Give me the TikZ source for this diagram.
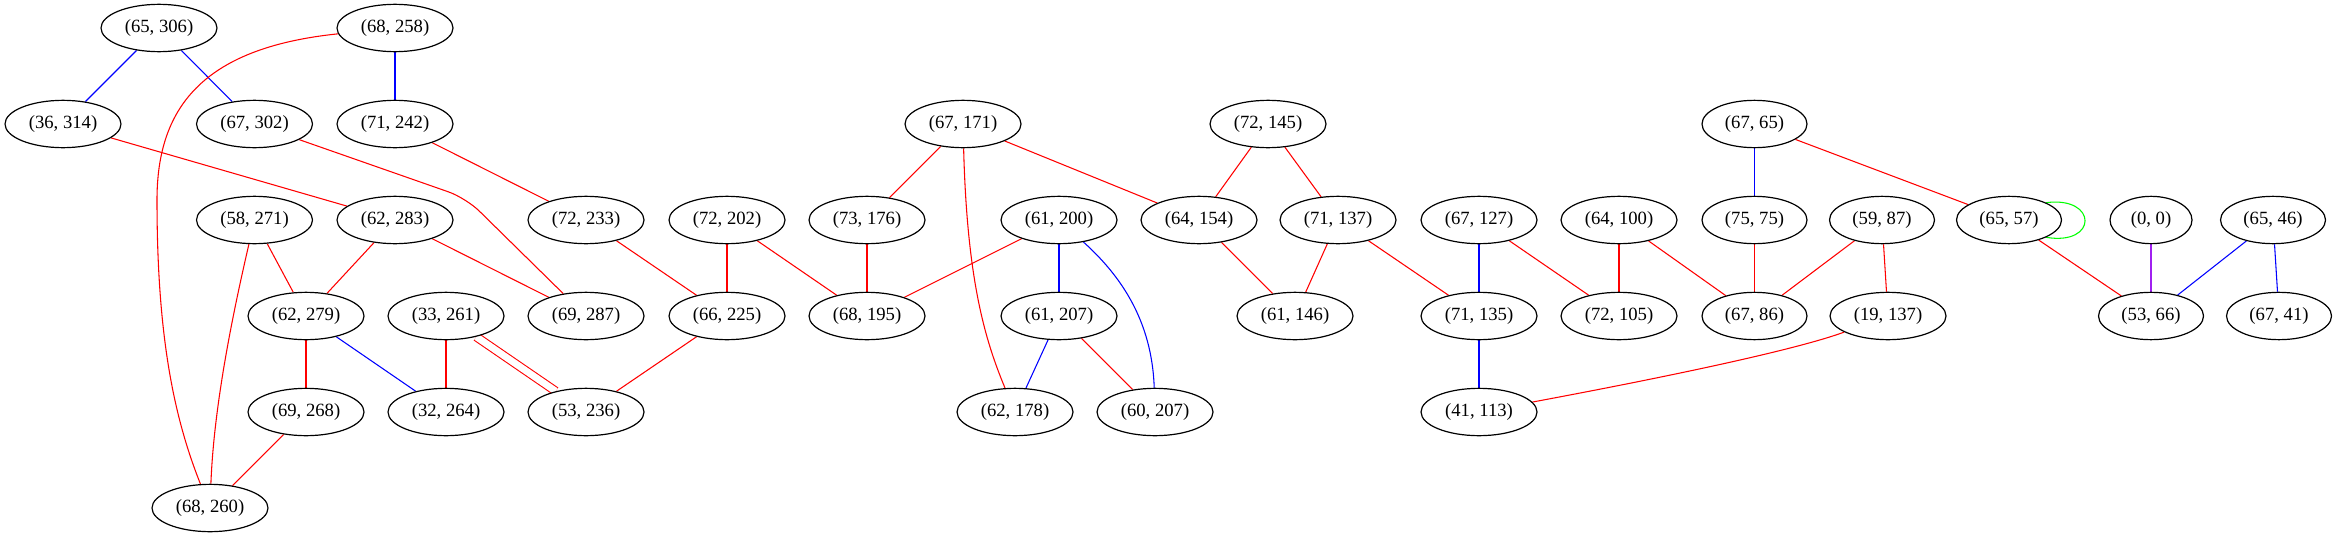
\documentclass[tikz,border=0pt]{standalone}
\usepackage{fontspec}
\setmainfont{Liberation Serif}
\usetikzlibrary{shapes.geometric,backgrounds}
\definecolor{gvred}{RGB}{255,0,0}
\definecolor{gvblue}{RGB}{0,0,255}
\definecolor{gvgreen}{RGB}{0,255,0}
\definecolor{gvpurple}{RGB}{160,32,240}
\begin{document}
\begin{tikzpicture}[x=0.75pt,y=-0.75pt,
  gn/.style={ellipse,draw,line width=0.9pt,fill=white,minimum width=87pt,minimum height=35.5pt,inner sep=0pt,font=\fontsize{14}{16}\selectfont},
  gs/.style={gn,minimum width=78.75pt},
  gt/.style={gn,minimum width=61.5pt},
  re/.style={draw=gvred,line width=0.8pt},
  be/.style={draw=gvblue,line width=0.8pt},
  ge/.style={draw=gvgreen,line width=0.8pt},
  pe/.style={draw=gvpurple,line width=0.8pt}]
\useasboundingbox (0,0) rectangle (2337,539);
% row 0
\node[gn] (a65x306) at (159,28) {(65, 306)};
\node[gn] (a68x258) at (395,28) {(68, 258)};
% row 1
\node[gn] (a36x314) at (63,124) {(36, 314)};
\node[gn] (a67x302) at (254.5,124) {(67, 302)};
\node[gn] (a71x242) at (395,124) {(71, 242)};
\node[gn] (a67x171) at (963,124) {(67, 171)};
\node[gn] (a72x145) at (1268,124) {(72, 145)};
\node[gs] (a67x65) at (1754.5,124) {(67, 65)};
% row 2
\node[gn] (a58x271) at (254.5,220) {(58, 271)};
\node[gn] (a62x283) at (395,220) {(62, 283)};
\node[gn] (a72x233) at (586,220) {(72, 233)};
\node[gn] (a72x202) at (727,220) {(72, 202)};
\node[gn] (a73x176) at (867,220) {(73, 176)};
\node[gn] (a61x200) at (1059,220) {(61, 200)};
\node[gn] (a64x154) at (1199,220) {(64, 154)};
\node[gn] (a71x137) at (1338,220) {(71, 137)};
\node[gn] (a67x127) at (1479,220) {(67, 127)};
\node[gn] (a64x100) at (1619,220) {(64, 100)};
\node[gs] (a75x75) at (1754.5,220) {(75, 75)};
\node[gs] (a59x87) at (1882,220) {(59, 87)};
\node[gs] (a65x57) at (2009,220) {(65, 57)};
\node[gt] (a0x0) at (2151,220) {(0, 0)};
\node[gs] (a65x46) at (2273,220) {(65, 46)};
% row 3
\node[gn] (a62x279) at (306,316) {(62, 279)};
\node[gn] (a33x261) at (446,316) {(33, 261)};
\node[gn] (a69x287) at (586,316) {(69, 287)};
\node[gn] (a66x225) at (727,316) {(66, 225)};
\node[gn] (a68x195) at (867,316) {(68, 195)};
\node[gn] (a61x207) at (1059,316) {(61, 207)};
\node[gn] (a61x146) at (1295,316) {(61, 146)};
\node[gn] (a71x135) at (1479,316) {(71, 135)};
\node[gn] (a72x105) at (1619,316) {(72, 105)};
\node[gs] (a67x86) at (1754.5,316) {(67, 86)};
\node[gn] (a19x137) at (1888,316) {(19, 137)};
\node[gs] (a53x66) at (2151,316) {(53, 66)};
\node[gs] (a67x41) at (2279,316) {(67, 41)};
% row 4
\node[gn] (a69x268) at (306,412) {(69, 268)};
\node[gn] (a32x264) at (446,412) {(32, 264)};
\node[gn] (a53x236) at (586,412) {(53, 236)};
\node[gn] (a62x178) at (1015,412) {(62, 178)};
\node[gn] (a60x207) at (1155,412) {(60, 207)};
\node[gn] (a41x113) at (1479,412) {(41, 113)};
% row 5
\node[gn] (a68x260) at (210,508) {(68, 260)};

\begin{pgfonlayer}{background}
% blue
\draw[be] (a65x306) -- (a36x314);
\draw[be] (a65x306) -- (a67x302);
\draw[be] (a68x258) -- (a71x242);
\draw[be] (a67x65) -- (a75x75);
\draw[be] (a61x200) -- (a61x207);
\draw[be] (a67x127) -- (a71x135);
\draw[be] (a65x46) -- (a53x66);
\draw[be] (a65x46) -- (a67x41);
\draw[be] (a62x279) -- (a32x264);
\draw[be] (a61x207) -- (a62x178);
\draw[be] (a71x135) -- (a41x113);
\draw[be] (a61x200) .. controls (1120,275) and (1152,320) .. (a60x207);
% purple
\draw[pe] (a0x0) -- (a53x66);
% green loop
\draw[ge] (a65x57.25) .. controls (2098,196) and (2098,246) .. (a65x57.-25);
% red
\draw[re] (a36x314) -- (a62x283);
\draw[re] (a71x242) -- (a72x233);
\draw[re] (a67x171) -- (a73x176);
\draw[re] (a67x171) -- (a64x154);
\draw[re] (a72x145) -- (a64x154);
\draw[re] (a72x145) -- (a71x137);
\draw[re] (a67x65) -- (a65x57);
\draw[re] (a58x271) -- (a62x279);
\draw[re] (a62x283) -- (a62x279);
\draw[re] (a62x283) -- (a69x287);
\draw[re] (a72x233) -- (a66x225);
\draw[re] (a72x202) -- (a66x225);
\draw[re] (a72x202) -- (a68x195);
\draw[re] (a73x176) -- (a68x195);
\draw[re] (a61x200) -- (a68x195);
\draw[re] (a64x154) -- (a61x146);
\draw[re] (a71x137) -- (a61x146);
\draw[re] (a71x137) -- (a71x135);
\draw[re] (a67x127) -- (a72x105);
\draw[re] (a64x100) -- (a72x105);
\draw[re] (a64x100) -- (a67x86);
\draw[re] (a75x75) -- (a67x86);
\draw[re] (a59x87) -- (a67x86);
\draw[re] (a59x87) -- (a19x137);
\draw[re] (a65x57) -- (a53x66);
\draw[re] (a62x279) -- (a69x268);
\draw[re] (a33x261) -- (a32x264);
\draw[re] (a66x225) -- (a53x236);
\draw[re] (a61x207) -- (a60x207);
\draw[re] (a69x268) -- (a68x260);
\draw[re] (a68x258) .. controls (200,48) and (157,110) .. (157,200) .. controls (157,340) and (175,420) .. (a68x260);
\draw[re, rounded corners=14pt] (a67x302) -- (466,198) -- (a69x287);
\draw[re] (a67x171) .. controls (967,280) and (985,340) .. (a62x178);
\draw[re] (a58x271) .. controls (236,300) and (214,400) .. (a68x260);
\draw[re] (a19x137) .. controls (1790,352) and (1640,382) .. (a41x113);
\draw[re, double=white, double distance=5.2pt] (a33x261) -- (a53x236);
\end{pgfonlayer}
\end{tikzpicture}
\end{document}
